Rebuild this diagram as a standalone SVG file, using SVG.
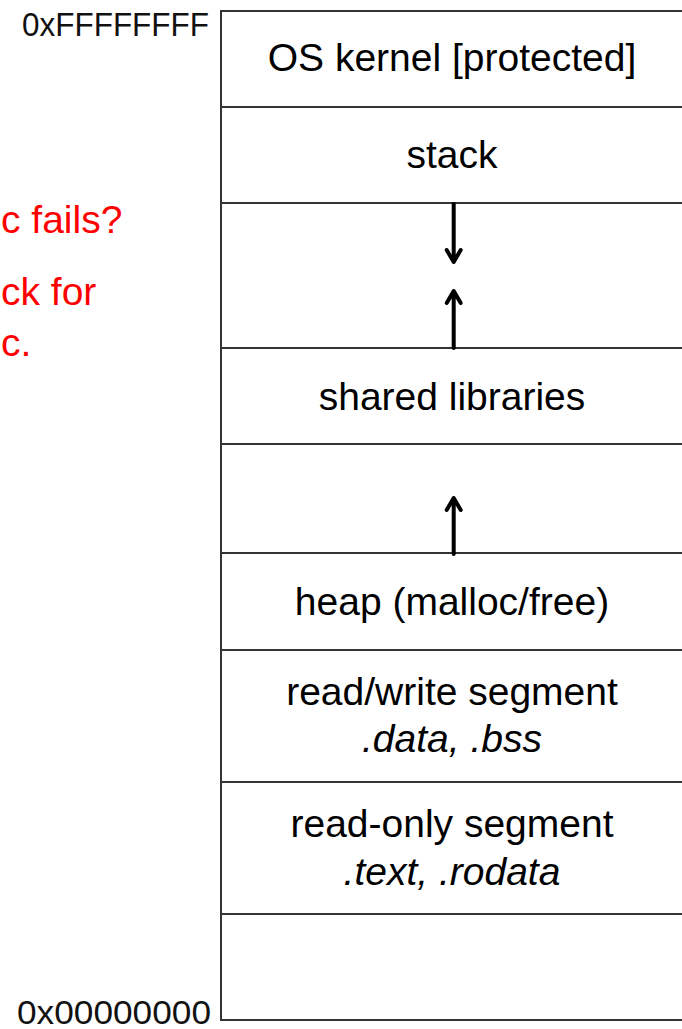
<svg xmlns="http://www.w3.org/2000/svg" width="682" height="1029" viewBox="0 0 682 1029">
<style>
.seg{fill:#fff;stroke:#333;stroke-width:2}
.lbl{font-family:"Liberation Sans",Arial,sans-serif;font-size:39px;fill:#000;text-anchor:middle}
.it{font-style:italic}
.addr{font-family:"Liberation Sans",Arial,sans-serif;font-size:34px;fill:#111;text-anchor:end}
.red{font-family:"Liberation Sans",Arial,sans-serif;font-size:39px;fill:#f00;text-anchor:start}
.arr{stroke:#000;stroke-width:4;fill:none;stroke-linecap:round;stroke-linejoin:round}
</style>
<rect width="682" height="1029" fill="#fff"/>
<g id="kernel"><rect class="seg" x="221" y="11" width="464" height="96"/><text class="lbl" x="452" y="71">OS kernel [protected]</text></g>
<g id="stack"><rect class="seg" x="221" y="107" width="464" height="96"/><text class="lbl" x="452" y="168">stack</text></g>
<g id="gap1"><rect class="seg" x="221" y="203" width="464" height="145"/></g>
<g id="shared"><rect class="seg" x="221" y="348" width="464" height="96"/><text class="lbl" x="452" y="410">shared libraries</text></g>
<g id="gap2"><rect class="seg" x="221" y="444" width="464" height="109"/></g>
<g id="heap"><rect class="seg" x="221" y="553" width="464" height="97"/><text class="lbl" x="452" y="615">heap (malloc/free)</text></g>
<g id="rw"><rect class="seg" x="221" y="650" width="464" height="132"/><text class="lbl" x="452" y="705">read/write segment</text><text class="lbl it" x="452" y="752">.data, .bss</text></g>
<g id="ro"><rect class="seg" x="221" y="782" width="464" height="132"/><text class="lbl" x="452" y="837">read-only segment</text><text class="lbl it" x="452" y="885">.text, .rodata</text></g>
<g id="bottom"><rect class="seg" x="221" y="914" width="464" height="106"/></g>
<g id="addr-top"><text class="addr" x="209" y="36" textLength="187" lengthAdjust="spacingAndGlyphs">0xFFFFFFFF</text></g>
<g id="addr-bottom"><text class="addr" x="211" y="1024" textLength="194" lengthAdjust="spacingAndGlyphs">0x00000000</text></g>
<g id="note">
<text class="red" x="1" y="233">c fails?</text>
<text class="red" x="1" y="305">ck for</text>
<text class="red" x="1" y="356">c.</text>
</g>
<g id="connectors">
<path class="arr" d="M453.7 204 V262 M446.7 250 L453.7 262 L460.7 250"/>
<path class="arr" d="M453.7 348 V291 M446.7 303 L453.7 291 L460.7 303"/>
<path class="arr" d="M453.7 554 V498 M446.7 510 L453.7 498 L460.7 510"/>
</g>
</svg>
